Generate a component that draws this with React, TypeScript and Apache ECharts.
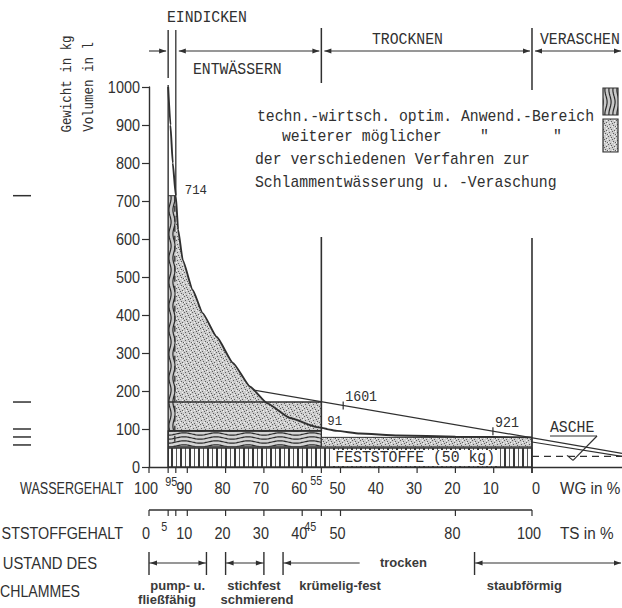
import React, { useEffect, useRef } from "react";
import * as echarts from "echarts";

// ---------------- data ----------------
const yTickValues = [0, 100, 200, 300, 400, 500, 600, 700, 800, 900, 1000];
const wgTickValues = [100, 95, 93, 90, 80, 70, 60, 55, 50, 40, 30, 20, 10, 0];
const wgLabelValues = [100, 90, 80, 70, 60, 50, 40, 30, 20, 10, 0];
const wgSupValues = [95, 55];
const tsTickValues = [0, 5, 7, 10, 20, 30, 40, 45, 50, 80, 100];
const tsLabelValues = [0, 10, 20, 30, 40, 50, 80, 100];
const tsSupValues = [5, 45];

// sludge weight curve (WG %, kg)
const curveWG = [95, 94.4, 93.8, 93, 92.4, 91.2, 88.6, 86, 82.3, 78.1, 73.6, 69.2, 63.2, 56.1, 50.9, 45, 35, 20, 0];
const curveKg = [1000, 900, 800, 714, 625, 545, 466, 405, 342, 274, 211, 168, 129, 105, 95, 88, 83, 80, 78];

const phaseNames = ["EINDICKEN", "ENTWÄSSERN", "TROCKNEN", "VERASCHEN"];
const phaseBounds = [95, 93, 55, 0]; // WG %

const solidsKg = 50;
const optimalBandKg = [53, 95]; // WG 95 -> 55
const rangeTopKg = 171;
const dryStripKg = [53, 78]; // WG 55 -> 0
const ashKg = 28;
const ashLineKg = [66, 28];
const volumeLineWG = [72.9, -23.5];
const volumeLineKg = [203, 36];
const volumeMarkWG = [49.3, 10.2];
const volumeMarkLabels = ["1601", "921"];
const pointLabelWG = [93, 55];
const pointLabelKg = [714, 95];
const pointLabelText = ["714", "91"];
const leftMarkKg = [714, 171, 100, 79, 58];

const stateFromTS = [0, 20, 35, 85];
const stateToTS = [15, 30, 55, 123.5];
const stateLabels = [["pump- u.", "fließfähig"], ["stichfest", "schmierend"], ["krümelig-fest"], ["staubförmig"]];
const stateLabelTS = [[7.5, 4.7], [27.4, 28.2], [49.9], [98]];

const legendLines = [
  "techn.-wirtsch. optim. Anwend.-Bereich",
  "weiterer möglicher",
  "der verschiedenen Verfahren zur",
  "Schlammentwässerung u. -Veraschung",
];

// ---------------- styling ----------------
const SANS = "'Liberation Sans', Arial, Helvetica, sans-serif";
const MONO = "'Liberation Mono', 'DejaVu Sans Mono', monospace";
const INK = "#303030";

function T(x: number, y: number, text: string, o: any = {}) {
  const align = o.align ?? "left";
  return {
    type: "text",
    x,
    y,
    z: 100,
    silent: true,
    scaleX: o.sx ?? 1,
    scaleY: o.sy ?? 1,
    rotation: o.rot ?? 0,
    style: {
      text,
      fill: o.fill ?? INK,
      fontSize: o.size ?? 17,
      fontFamily: o.family ?? SANS,
      fontWeight: o.weight ?? "normal",
      textAlign: align,
      align,
      textVerticalAlign: "middle",
      verticalAlign: "middle",
      backgroundColor: o.bg,
      padding: o.pad,
    },
  };
}
function L(x1: number, y1: number, x2: number, y2: number, o: any = {}) {
  return {
    type: "line",
    z: o.z ?? 100,
    silent: true,
    shape: { x1, y1, x2, y2 },
    style: { stroke: o.color ?? INK, lineWidth: o.w ?? 1.2, lineDash: o.dash },
  };
}
function head(x: number, y: number, dir: number) {
  return {
    type: "polygon",
    z: 100,
    silent: true,
    shape: { points: [[x, y], [x - dir * 7, y - 2.6], [x - dir * 7, y + 2.6]] },
    style: { fill: INK },
  };
}

export default function App() {
  const ref = useRef<HTMLDivElement>(null);
  useEffect(() => {
    const el = ref.current!;
    const chart = echarts.init(el, undefined, { renderer: "svg" });

    const tile = (w: number, h: number, bg: string, draw: (c: CanvasRenderingContext2D) => void) => {
      const cv = document.createElement("canvas");
      cv.width = w;
      cv.height = h;
      const c = cv.getContext("2d")!;
      c.fillStyle = bg;
      c.fillRect(0, 0, w, h);
      draw(c);
      return { image: cv.toDataURL("image/png"), repeat: "repeat", imageWidth: w, imageHeight: h } as any;
    };
    const stipple = tile(8, 8, "#cdcdcd", (c) => {
      c.fillStyle = "#5e5e5e";
      [[0, 0], [3, 1], [6, 2], [1, 4], [5, 5], [2, 7], [7, 6], [4, 3]].forEach(([x, y]) => c.fillRect(x, y, 1, 1));
      c.fillStyle = "#f4f4f4";
      [[2, 2], [6, 0], [0, 6], [4, 6], [7, 3]].forEach(([x, y]) => c.fillRect(x, y, 1, 1));
    });
    const hatch = tile(9, 4, "#fbfbfb", (c) => {
      c.fillStyle = "#383838";
      c.fillRect(0, 0, 2, 4);
      c.fillStyle = "#555";
      c.fillRect(5, 0, 1, 4);
    });
    const waveH = tile(32, 4, "#d4d4d4", (c) => {
      c.strokeStyle = "#2a2a2a";
      c.lineWidth = 1.2;
      c.beginPath();
      for (let x = 0; x <= 32; x++) {
        const y = 2 + 1.2 * Math.sin((2 * Math.PI * x) / 32);
        if (x === 0) c.moveTo(x, y);
        else c.lineTo(x, y);
      }
      c.stroke();
    });
    const waveV = tile(4, 24, "#c8c8c8", (c) => {
      c.strokeStyle = "#2a2a2a";
      c.lineWidth = 1.2;
      c.beginPath();
      for (let y = 0; y <= 24; y++) {
        const x = 2 + 1.1 * Math.sin((2 * Math.PI * y) / 24);
        if (y === 0) c.moveTo(x, y);
        else c.lineTo(x, y);
      }
      c.stroke();
    });

    const curve = curveWG.map((w, i) => [w, curveKg[i]]);

    // stippled "further possible" region: under the curve right of WG 93 plus the rectangle up to rangeTopKg
    const upper: number[][] = [];
    for (let i = 0; i < curve.length; i++) {
      const [w, k] = curve[i];
      if (w <= phaseBounds[1] && k > rangeTopKg) upper.push([w, k]);
      if (i > 0 && curve[i - 1][1] > rangeTopKg && k <= rangeTopKg) {
        const [w0, k0] = curve[i - 1];
        const t = (k0 - rangeTopKg) / (k0 - k);
        upper.push([w0 + (w - w0) * t, rangeTopKg]);
      }
    }
    const stippleRegion = [[phaseBounds[1], optimalBandKg[1]], ...upper, [phaseBounds[2], rangeTopKg], [phaseBounds[2], optimalBandKg[1]]];

    const poly = (pts: number[][], fill: any, stroke = "none", lw = 0, z = 2) => ({
      type: "custom",
      coordinateSystem: "cartesian2d",
      silent: true,
      z,
      data: [pts[0]],
      renderItem: (_p: any, api: any) => ({
        type: "polygon",
        shape: { points: pts.map((p) => api.coord(p)) },
        style: { fill, stroke, lineWidth: lw },
      }),
    });
    const seg = (pts: number[][], width = 1.2, type: any = "solid", z = 4) => ({
      type: "line",
      data: pts,
      showSymbol: false,
      symbol: "none",
      silent: true,
      z,
      lineStyle: { color: INK, width, type },
    });

    const option: any = {
      animation: false,
      backgroundColor: "#ffffff",
      grid: { left: 149, top: 87, width: 473, height: 380, containLabel: false, outerBoundsMode: "none" },
      xAxis: {
        type: "value",
        min: -23.5,
        max: 100,
        inverse: true,
        axisLine: { show: true, onZero: false, lineStyle: { color: INK, width: 1.4 } },
        axisTick: { show: false },
        axisLabel: { show: false },
        splitLine: { show: false },
      },
      yAxis: {
        type: "value",
        min: 0,
        max: 1000,
        interval: 100,
        axisLine: { show: true, onZero: false, lineStyle: { color: INK, width: 1.4 } },
        axisTick: { show: true, length: 7, lineStyle: { color: INK, width: 1.2 } },
        axisLabel: { show: false },
        splitLine: { show: false },
      },
      series: [
        poly(stippleRegion, stipple),
        poly([[phaseBounds[0], optimalBandKg[1]], [phaseBounds[0], 714], [phaseBounds[1], 714], [phaseBounds[1], optimalBandKg[1]]], waveV),
        poly([[phaseBounds[0], optimalBandKg[0]], [phaseBounds[0], optimalBandKg[1]], [phaseBounds[2], optimalBandKg[1]], [phaseBounds[2], optimalBandKg[0]]], waveH, INK, 1.3),
        poly([[phaseBounds[2], dryStripKg[0]], [phaseBounds[2], dryStripKg[1]], [phaseBounds[3], dryStripKg[1]], [phaseBounds[3], dryStripKg[0]]], stipple, INK, 1),
        poly([[phaseBounds[0], 0], [phaseBounds[0], solidsKg], [phaseBounds[3], solidsKg], [phaseBounds[3], 0]], hatch, INK, 1.4),
        seg([[phaseBounds[0], rangeTopKg], [phaseBounds[2], rangeTopKg]], 1.3),
        seg([[phaseBounds[0], optimalBandKg[1]], [phaseBounds[2], optimalBandKg[1]]], 1.8),
        seg([[phaseBounds[0], 714], [phaseBounds[1], 714]], 1),
        seg([[volumeLineWG[0], volumeLineKg[0]], [volumeLineWG[1], volumeLineKg[1]]], 1.2),
        seg([[phaseBounds[3], ashLineKg[0]], [volumeLineWG[1], ashLineKg[1]]], 1.1),
        seg([[phaseBounds[3], ashKg], [volumeLineWG[1], ashKg]], 1.2, [7, 5]),
        {
          type: "line",
          data: curve,
          showSymbol: false,
          symbol: "none",
          smooth: 0.15,
          smoothMonotone: "x",
          silent: true,
          z: 5,
          lineStyle: { color: INK, width: 1.9 },
        },
      ],
    };
    chart.setOption(option);

    const X = (wg: number) => chart.convertToPixel({ xAxisIndex: 0 }, wg) as number;
    const Y = (kg: number) => chart.convertToPixel({ yAxisIndex: 0 }, kg) as number;
    const XT = (ts: number) => X(100 - ts);
    const y0 = Y(0);
    const g: any[] = [];

    // y-axis labels and name
    yTickValues.forEach((v) => g.push(T(140, Y(v), String(v), { align: "right", sx: 0.85 })));
    g.push(T(67, 84, "Gewicht in kg", { family: MONO, size: 14, sx: 0.89, rot: Math.PI / 2, align: "center" }));
    g.push(T(89, 87, "Volumen in l", { family: MONO, size: 14, sx: 0.89, rot: Math.PI / 2, align: "center" }));

    // WG axis ticks and labels
    wgTickValues.forEach((v) => g.push(L(X(v), y0, X(v), y0 + 6, { w: 1.2 })));
    wgLabelValues.forEach((v) => g.push(T(X(v) + (v === 0 ? 4 : -3), 488, String(v), { align: "center", sx: 0.85 })));
    g.push(T(X(wgSupValues[0]) + 3, 482, String(wgSupValues[0]), { align: "center", size: 12, sx: 0.9 }));
    g.push(T(X(wgSupValues[1]) - 5, 481, String(wgSupValues[1]), { align: "center", size: 12, sx: 0.9 }));
    g.push(T(20, 488, "WASSERGEHALT", { sx: 0.74 }));
    g.push(T(560, 488, "WG in %", { sx: 0.9 }));

    // TS axis
    g.push(L(XT(0), 510, XT(100), 510, { w: 1.3 }));
    tsTickValues.forEach((v) => g.push(L(XT(v), 510, XT(v), 516, { w: 1.2 })));
    tsLabelValues.forEach((v) => g.push(T(XT(v) - 3, 533, String(v), { align: "center", sx: 0.85 })));
    g.push(T(XT(tsSupValues[0]) - 4, 527, String(tsSupValues[0]), { align: "center", size: 12, sx: 0.9 }));
    g.push(T(XT(tsSupValues[1]) - 11, 527, String(tsSupValues[1]), { align: "center", size: 12, sx: 0.9 }));
    g.push(T(123, 533, "STSTOFFGEHALT", { align: "right", sx: 0.845 }));
    g.push(T(560, 533, "TS in %", { sx: 0.9 }));

    // Zustand des Schlammes
    g.push(T(97, 563, "USTAND DES", { align: "right", sx: 0.87 }));
    g.push(T(80, 591, "CHLAMMES", { align: "right", sx: 0.83 }));
    const ya = 563;
    stateFromTS.forEach((f, i) => {
      const xl = XT(f);
      const xr = i === 3 ? 621 : XT(stateToTS[i]);
      g.push(L(xl, 552, xl, 575, { w: 1.4 }));
      g.push(L(xl, ya, xr, ya, { w: 1.1 }));
      g.push(head(xl + 1, ya, -1));
      if (i < 2) {
        g.push(L(xr, 552, xr, 575, { w: 1.4 }));
        g.push(head(xr - 1, ya, 1));
      }
      if (i === 3) g.push(head(xr, ya, 1));
      stateLabels[i].forEach((s, j) =>
        g.push(T(XT(stateLabelTS[i][j]), j === 0 ? 585 : 599.5, s, { align: "center", size: 13, weight: "bold", fill: "#3a3a3a" }))
      );
    });
    g.push(T(XT(60.3), 562, "trocken", { size: 13, weight: "bold", fill: "#3a3a3a" }));

    // phase boundaries, arrows and names
    const xb = phaseBounds.map(X);
    g.push(L(xb[0], 30, xb[0], 78, { w: 1.4 }));
    g.push(L(xb[0], 85, xb[0], y0, { w: 1.4 }));
    g.push(L(xb[1], 30, xb[1], Y(714), { w: 1.3 }));
    g.push(L(xb[1] - 1, Y(714), xb[1] - 1, Y(optimalBandKg[0]), { w: 1.3, dash: [6, 4] }));
    g.push(L(xb[2], 28, xb[2], 83, { w: 1.5 }));
    g.push(L(xb[2], 237, xb[2], Y(optimalBandKg[1]), { w: 1.6 }));
    g.push(L(xb[3], 28, xb[3], 90, { w: 1.5 }));
    g.push(L(xb[3], 238, xb[3], y0 + 6, { w: 1.6 }));
    const yr = 51;
    g.push(L(X(100), yr, xb[0] - 2, yr, { w: 1.1 }));
    g.push(head(xb[0] - 2, yr, 1));
    const spans = [[xb[1] + 3, xb[2] - 2], [xb[2] + 3, xb[3] - 2], [xb[3] + 3, 621]];
    spans.forEach(([a, b]) => {
      g.push(L(a, yr, b, yr, { w: 1.1 }));
      g.push(head(a, yr, -1));
      g.push(head(b, yr, 1));
    });
    const ph = { family: MONO, sx: 0.87 };
    g.push(T(167, 18, phaseNames[0], ph));
    g.push(T(193, 70, phaseNames[1], ph));
    g.push(T(372, 40, phaseNames[2], ph));
    g.push(T(540, 40, phaseNames[3], ph));

    // legend
    g.push(T(257, 117, legendLines[0], ph));
    g.push(T(282, 137, legendLines[1], ph));
    g.push(T(480, 137, '"', ph));
    g.push(T(553, 137, '"', ph));
    g.push(T(255, 160, legendLines[2], ph));
    g.push(T(255, 183, legendLines[3], ph));
    g.push({ type: "rect", z: 100, silent: true, shape: { x: 603, y: 88, width: 15, height: 27 }, style: { fill: waveV, stroke: INK, lineWidth: 1.2 } });
    g.push({ type: "rect", z: 100, silent: true, shape: { x: 603, y: 119, width: 15, height: 33 }, style: { fill: stipple, stroke: INK, lineWidth: 1.2 } });

    // point labels
    pointLabelText.forEach((s, i) => {
      const px = X(pointLabelWG[i]);
      const py = Y(pointLabelKg[i]);
      g.push(T(px + (i === 0 ? 9 : 6), py - (i === 0 ? 5 : 9), s, { family: MONO, size: 13, sx: 0.95, bg: i === 1 ? "#fff" : undefined }));
    });
    volumeMarkWG.forEach((w, i) => {
      const t = (volumeLineWG[0] - w) / (volumeLineWG[0] - volumeLineWG[1]);
      const k = volumeLineKg[0] + (volumeLineKg[1] - volumeLineKg[0]) * t;
      const px = X(w);
      const py = Y(k);
      g.push(L(px, py - 4, px, py + 4, { w: 1.2 }));
      g.push(T(px + 2, py - 8, volumeMarkLabels[i], { family: MONO, size: 14, sx: 0.95 }));
    });

    // Feststoffe label
    g.push({ type: "rect", z: 99, silent: true, shape: { x: 333, y: Y(solidsKg) + 2, width: 164, height: y0 - Y(solidsKg) - 3 }, style: { fill: "#fff" } });
    g.push(T(X(30.5), Y(solidsKg / 2), "FESTSTOFFE (50 kg)", { family: MONO, sx: 0.87, align: "center" }));

    // ASCHE label with pointer
    g.push(T(550, 428, "ASCHE", ph));
    g.push(L(550, 436, 597, 436, { w: 1.2 }));
    g.push(L(597, 436, 573, Y(ashKg) + 4, { w: 1.2 }));
    g.push(L(573, Y(ashKg) + 4, 567, Y(ashKg) - 1, { w: 1.2 }));

    // marks at left edge (cropped neighbouring figure)
    leftMarkKg.forEach((k) => g.push(L(13, Y(k), 31, Y(k), { w: 1.5 })));

    chart.setOption({ graphic: { elements: g } });
    return () => chart.dispose();
  }, []);
  return <div ref={ref} style={{ position: "absolute", left: 0, top: 0, width: 622, height: 608 }} />;
}
